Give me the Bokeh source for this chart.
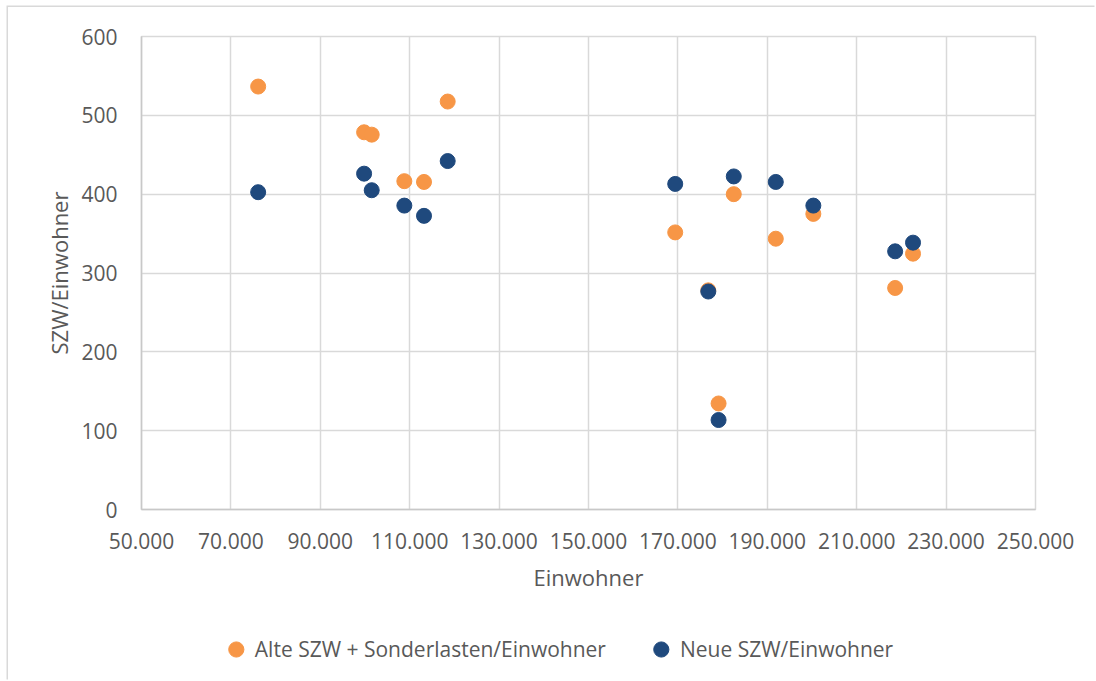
from bokeh.plotting import figure
from bokeh.layouts import column
from bokeh.models import ColumnDataSource, FixedTicker, Legend, LegendItem
from bokeh.embed import file_html
from bokeh.resources import INLINE

# ---- data ----
einwohner = [76100, 99800, 101500, 108800, 113200, 118500, 169400,
             176800, 179100, 182500, 191900, 200300, 218600, 222600]
alte_szw = [536.5, 478.5, 475.5, 416.5, 415.5, 517.5, 351.5,
            278, 134.5, 400, 343.5, 375, 281, 324.5]
neue_szw = [402.5, 426, 405, 385.5, 372.5, 442, 413,
            276.5, 113.5, 422.5, 415.5, 385.5, 327.5, 338.5]

series_names = ["Alte SZW + Sonderlasten/Einwohner", "Neue SZW/Einwohner"]
x_ticks = [50000, 70000, 90000, 110000, 130000, 150000,
           170000, 190000, 210000, 230000, 250000]
x_tick_labels = ["50.000", "70.000", "90.000", "110.000", "130.000", "150.000",
                 "170.000", "190.000", "210.000", "230.000", "250.000"]
y_ticks = [0, 100, 200, 300, 400, 500, 600]
x_title = "Einwohner"
y_title = "SZW/Einwohner"

ORANGE = "#F79646"
NAVY = "#1F497D"
GRID = "#d9d9d9"
TEXT = "#595959"
FONT = "Open Sans"

p = figure(width=1088, height=610, output_backend="svg", toolbar_location=None,
           x_range=(50000, 250000), y_range=(0, 600),
           min_border_left=133, min_border_right=61,
           min_border_top=29, min_border_bottom=108)
p.background_fill_color = "white"
p.border_fill_color = "white"
p.outline_line_color = GRID
p.outline_line_width = 1.5

src = ColumnDataSource(dict(x=einwohner, alt=alte_szw, neu=neue_szw))
p.scatter("x", "alt", source=src, size=15, fill_color=ORANGE, line_color=ORANGE)
p.scatter("x", "neu", source=src, size=15, fill_color=NAVY, line_color=NAVY)

# axes
p.xaxis.ticker = FixedTicker(ticks=x_ticks)
p.xaxis.major_label_overrides = {t: l for t, l in zip(x_ticks, x_tick_labels)}
p.yaxis.ticker = FixedTicker(ticks=y_ticks)
for ax in (p.xaxis, p.yaxis):
    ax.major_tick_line_color = None
    ax.minor_tick_line_color = None
    ax.axis_line_color = "#c8c8c8"
    ax.axis_line_width = 1.5
    ax.major_label_text_font = FONT
    ax.major_label_text_font_size = "21px"
    ax.major_label_text_color = TEXT
    ax.axis_label_text_font = FONT
    ax.axis_label_text_font_size = "22px"
    ax.axis_label_text_font_style = "normal"
    ax.axis_label_text_color = TEXT
p.xaxis.axis_label = x_title
p.yaxis.axis_label = y_title
p.xaxis.major_label_standoff = 17
p.xaxis.axis_label_standoff = 10
p.yaxis.major_label_standoff = 18
p.yaxis.axis_label_standoff = 4

p.xgrid.grid_line_color = GRID
p.ygrid.grid_line_color = GRID
p.xgrid.grid_line_width = 1.5
p.ygrid.grid_line_width = 1.5
p.xgrid.ticker = FixedTicker(ticks=x_ticks)
p.ygrid.ticker = FixedTicker(ticks=y_ticks)

# ---- legend strip (separate figure below the chart; its own view shows no data) ----
lg = figure(width=1022, height=64, output_backend="svg", toolbar_location=None,
            x_axis_type=None, y_axis_type=None, x_range=(0, 1), y_range=(0, 1),
            min_border_left=0, min_border_right=0, min_border_top=0, min_border_bottom=0)
lg.outline_line_color = None
lg.xgrid.visible = False
lg.ygrid.visible = False
d_alt = lg.scatter("x", "alt", source=src, size=15, fill_color=ORANGE, line_color=ORANGE)
d_neu = lg.scatter("x", "neu", source=src, size=15, fill_color=NAVY, line_color=NAVY)
legend = Legend(items=[LegendItem(label=series_names[0], renderers=[d_alt]),
                       LegendItem(label=series_names[1], renderers=[d_neu])],
                orientation="horizontal", location="center",
                glyph_width=38, glyph_height=38, label_standoff=-9, spacing=36,
                padding=0, margin=0, border_line_color=None,
                background_fill_alpha=0,
                label_text_font=FONT, label_text_font_size="21px",
                label_text_color=TEXT)
lg.add_layout(legend, "center")

layout = column(p, lg, spacing=0)
layout.styles = {"margin": "7px 0 0 8px", "box-shadow": "-1.5px -1.5px 0 0 #d9d9d9"}

open("out.html", "w").write(file_html(layout, INLINE))
